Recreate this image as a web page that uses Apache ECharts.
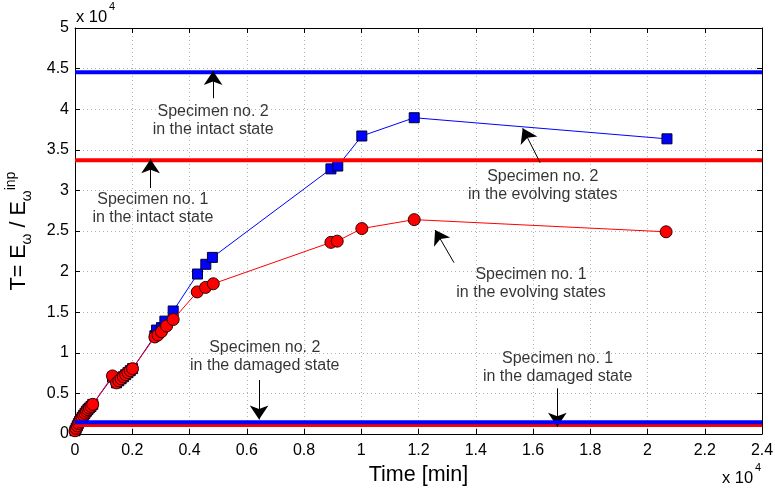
<!DOCTYPE html>
<html><head><meta charset="utf-8">
<script src="https://cdn.jsdelivr.net/npm/echarts@6/dist/echarts.min.js"></script>
<style>html,body{margin:0;padding:0;background:#fff}#c{width:775px;height:488px}</style>
</head><body><div id="c"></div>
<script>
// ---- tick labels ----
const xTickLabels = ['0','0.2','0.4','0.6','0.8','1','1.2','1.4','1.6','1.8','2','2.2','2.4'];
const yTickLabels = ['0','0.5','1','1.5','2','2.5','3','3.5','4','4.5','5'];

// ---- specimen 1 (red circles) ----
const spec1Time = [0, 40, 80, 120, 160, 200, 250, 300, 350, 400, 450, 500, 560, 620,
  1310, 1450, 1530, 1610, 1690, 1770, 1850, 1930, 2010,
  2790, 2900, 3020, 3200, 3430,
  4270, 4560, 4830,
  8940, 9160, 10020, 11850, 20650];
const spec1T = [400, 700, 1000, 1300, 1550, 1800, 2050, 2300, 2550, 2800, 3000, 3200, 3400, 3650,
  7150, 6300, 6550, 6800, 7050, 7300, 7550, 7800, 8050,
  11950, 12200, 12600, 13300, 14100,
  17500, 18050, 18500,
  23600, 23750, 25300, 26400, 24900];

// ---- specimen 2 (blue squares) ----
const spec2Time = [0, 40, 80, 120, 160, 200, 250, 300, 350, 400, 450, 500, 560, 620,
  1310, 1450, 1530, 1610, 1690, 1770, 1850, 1930, 2010,
  2790, 2850, 3020, 3140, 3430,
  4280, 4570, 4800,
  8940, 9180, 10020, 11850, 20680];
const spec2T = [400, 700, 1000, 1300, 1550, 1800, 2050, 2300, 2550, 2800, 3000, 3200, 3400, 3650,
  7000, 6300, 6550, 6800, 7050, 7300, 7550, 7800, 8050,
  12100, 12800, 13100, 13900, 15150,
  19700, 20900, 21750,
  32650, 33000, 36700, 38950, 36350];

// ---- reference levels ----
const levelSpan = [0, 24000];
const spec1Intact = 33700;
const spec2Intact = 44550;
const spec1Damaged = 1100;
const spec2Damaged = 1450;

// ---- annotations (data coordinates) ----
const noteTexts = [
  'Specimen no. 2\nin the intact state',
  'Specimen no. 1\nin the intact state',
  'Specimen no. 2\nin the evolving states',
  'Specimen no. 1\nin the evolving states',
  'Specimen no. 2\nin the damaged state',
  'Specimen no. 1\nin the damaged state'
];
const noteX = [4825, 2720, 16340, 15930, 6630, 16860];
const noteY = [38600, 27770, 30570, 18500, 9580, 8190];
const arrowFromX = [4825, 2640, 16250, 13240, 6430, 16850];
const arrowFromY = [41350, 30300, 33400, 21100, 6650, 5630];
const arrowToX   = [4825, 2640, 15640, 12580, 6430, 16850];
const arrowToY   = [44700, 33850, 37650, 25120, 1800, 900];

const pairs = (xs, ys) => xs.map((x, i) => [x, ys[i]]);
const flat = (v) => levelSpan.map(x => [x, v]);

const chart = echarts.init(document.getElementById('c'), null, {renderer: 'canvas'});
const FONT = '"Liberation Sans", Arial, sans-serif';
const gridColor = '#b4b4b4';

const baseAxisX = {
  type: 'value', min: 0, max: 24000, interval: 2000,
  axisLine: {show: true, onZero: false, lineStyle: {color: '#000', width: 1}},
  axisTick: {show: true, inside: true, length: 5, lineStyle: {color: '#000'}},
};
const baseAxisY = {
  type: 'value', min: 0, max: 50000, interval: 5000,
  axisLine: {show: true, onZero: false, lineStyle: {color: '#000', width: 1}},
  axisTick: {show: true, inside: true, length: 5, lineStyle: {color: '#000'}},
};

const option = {
  animation: false,
  backgroundColor: '#fff',
  grid: {left: 75, right: 13, top: 28, bottom: 54, containLabel: false, outerBoundsMode: 'none'},
  xAxis: [
    Object.assign({}, baseAxisX, {
      position: 'bottom',
      name: 'Time [min]', nameLocation: 'middle', nameGap: 23,
      nameTextStyle: {fontFamily: FONT, fontSize: 21.5, color: '#000'},
      axisLabel: {color: '#000', fontFamily: FONT, fontSize: 16, margin: 9,
        formatter: v => xTickLabels[Math.round(v / 2000)]},
      splitLine: {show: true, lineStyle: {color: gridColor, type: [1, 3], width: 1}}
    }),
    Object.assign({}, baseAxisX, {
      position: 'top', axisLabel: {show: false}, splitLine: {show: false}
    })
  ],
  yAxis: [
    Object.assign({}, baseAxisY, {
      position: 'left',
      name: '{a|T= E}{s|ω}{a| / E}{s|ω}{p|inp}',
      nameLocation: 'middle', nameRotate: 90, nameGap: 41,
      nameTextStyle: {
        fontFamily: FONT, fontSize: 21.5, color: '#000',
        rich: {
          a: {fontFamily: FONT, fontSize: 21.5, color: '#000', lineHeight: 30, verticalAlign: 'middle'},
          s: {fontFamily: FONT, fontSize: 14, color: '#000', verticalAlign: 'bottom', lineHeight: 30, padding: [10, 0, 0, 0]},
          p: {fontFamily: FONT, fontSize: 14, color: '#000', verticalAlign: 'top', lineHeight: 30, padding: [0, 0, 12, 0]}
        }
      },
      axisLabel: {color: '#000', fontFamily: FONT, fontSize: 16, margin: 6,
        formatter: v => yTickLabels[Math.round(v / 5000)]},
      splitLine: {show: true, lineStyle: {color: gridColor, type: [1, 3], width: 1}}
    }),
    Object.assign({}, baseAxisY, {
      position: 'right', axisLabel: {show: false}, splitLine: {show: false}
    })
  ],
  graphic: [
    {type: 'text', left: 76, top: 9, style: {text: 'x 10', fontFamily: FONT, fontSize: 16.5, fill: '#000'}},
    {type: 'text', left: 109, top: 1, style: {text: '4', fontFamily: FONT, fontSize: 11, fill: '#000'}},
    {type: 'text', left: 722, top: 470, style: {text: 'x 10', fontFamily: FONT, fontSize: 16.5, fill: '#000'}},
    {type: 'text', left: 755, top: 462, style: {text: '4', fontFamily: FONT, fontSize: 11, fill: '#000'}}
  ],
  series: [
    {
      name: 'Specimen 2', type: 'line', z: 2,
      data: pairs(spec2Time, spec2T),
      symbol: 'rect', symbolSize: 10,
      lineStyle: {color: '#0000ff', width: 1},
      itemStyle: {color: '#0000ff', borderColor: '#000033', borderWidth: 1},
      emphasis: {disabled: true}
    },
    {
      name: 'Specimen 1', type: 'line', z: 3,
      data: pairs(spec1Time, spec1T),
      symbol: 'circle', symbolSize: 12,
      lineStyle: {color: '#ff0000', width: 1},
      itemStyle: {color: '#ff0000', borderColor: '#300000', borderWidth: 1},
      emphasis: {disabled: true}
    },
    {
      name: 'Spec 2 intact', type: 'line', z: 4, showSymbol: false, symbol: 'none',
      data: flat(spec2Intact), lineStyle: {color: '#0000ff', width: 4}
    },
    {
      name: 'Spec 1 intact', type: 'line', z: 4, showSymbol: false, symbol: 'none',
      data: flat(spec1Intact), lineStyle: {color: '#ff0000', width: 4}
    },
    {
      name: 'Spec 1 damaged', type: 'line', z: 4, showSymbol: false, symbol: 'none',
      data: flat(spec1Damaged), lineStyle: {color: '#ff0000', width: 4}
    },
    {
      name: 'Spec 2 damaged', type: 'line', z: 5, showSymbol: false, symbol: 'none',
      data: flat(spec2Damaged), lineStyle: {color: '#0000ff', width: 4}
    },
    {
      name: 'notes', type: 'scatter', z: 6, symbolSize: 1,
      itemStyle: {color: 'rgba(0,0,0,0)'},
      data: noteTexts.map((t, i) => ({value: [noteX[i], noteY[i]], name: t})),
      label: {show: true, position: 'inside', formatter: '{b}', color: '#000',
        fontFamily: FONT, fontSize: 16, lineHeight: 18, align: 'center'},
      emphasis: {disabled: true}, silent: true
    },
    {
      name: 'arrows', type: 'line', z: 7, data: [], silent: true,
      markLine: {
        silent: true, animation: false,
        symbol: ['none', 'arrow'], symbolSize: 14,
        label: {show: false},
        lineStyle: {color: '#000', width: 1, type: 'solid'},
        itemStyle: {color: '#000'},
        emphasis: {disabled: true},
        data: arrowFromX.map((x, i) => [
          {coord: [x, arrowFromY[i]]},
          {coord: [arrowToX[i], arrowToY[i]]}
        ])
      }
    }
  ]
};
chart.setOption(option);
</script></body></html>
